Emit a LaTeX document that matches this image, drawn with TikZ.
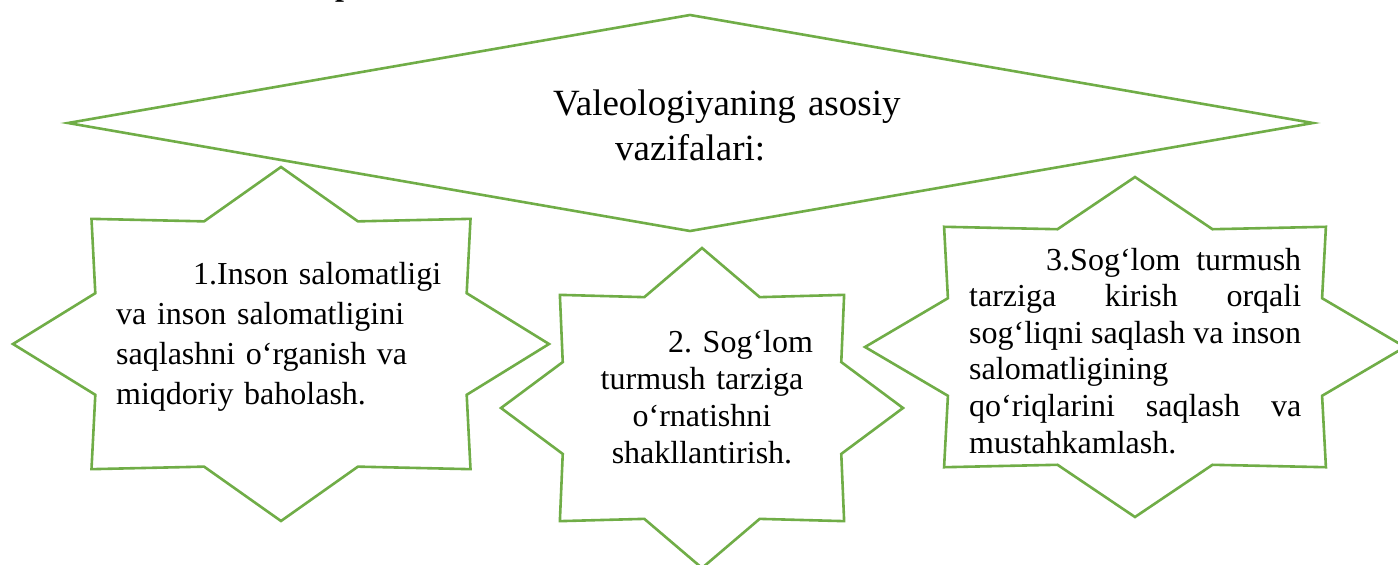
\documentclass[tikz,border=0pt]{standalone}
\usepackage{fontspec}
\setmainfont{Liberation Serif}
\frenchspacing
\definecolor{officegreen}{HTML}{70AD47}
\tikzset{
  shapeline/.style={draw=officegreen, line width=2.6pt, fill=white, line join=miter},
  boxtext/.style={inner sep=0pt, anchor=base west, font=\fontsize{32}{40}\selectfont},
}
\newcommand{\eightstar}[4]{% cx, cy, rx, ry
  \draw[shapeline] ({#1},{#2-#4})
    \foreach \k in {0,...,6}{
      -- ({#1+0.75*#3*cos(67.5-45*\k)},{#2-0.75*#4*sin(67.5-45*\k)})
      -- ({#1+#3*cos(45-45*\k)},{#2-#4*sin(45-45*\k)})
    }
    -- ({#1+0.75*#3*cos(112.5)},{#2-0.75*#4*sin(112.5)}) -- cycle;}
\begin{document}
\begin{tikzpicture}[x=1pt,y=-1pt]
\useasboundingbox (0,0) rectangle (1398,565);
% cut-off heading fragment
\node[inner sep=0pt, anchor=base west, font=\fontsize{32}{32}\selectfont\bfseries] (frag) at (335,-5) {p};
% main diamond
\coordinate (dl) at (68,123);
\coordinate (dt) at (690,15);
\coordinate (dr) at (1313,123);
\coordinate (db) at (690,231);
\draw[shapeline] (dl) -- (dt) -- (dr) -- (db) -- cycle;
\node[inner sep=0pt, anchor=base west, text width=400pt, align=left,
      font=\fontsize{37}{45}\selectfont] (title) at (553,115)
  {Valeologiyaning asosiy\\\hspace*{62pt}vazifalari:};
% stars
\eightstar{281}{344}{268}{177}
\eightstar{702}{408}{201}{160}
\eightstar{1135}{347}{270}{170}
% star texts
\node[boxtext, text width=340pt, align=left] (t1) at (116,284)
  {\hspace*{77pt}1.Inson salomatligi\\va inson salomatligini\\saqlashni o‘rganish va\\miqdoriy baholash.};
\node[inner sep=0pt, anchor=base, text width=300pt, align=center,
      font=\fontsize{32}{37}\selectfont] (t2) at (702,352)
  {\hspace*{77pt}2. Sog‘lom\\turmush tarziga\\o‘rnatishni\\shakllantirish.};
\node[boxtext, text width=332pt, font=\fontsize{32}{36.6}\selectfont] (t3) at (969,270)
  {\noindent\hspace*{77pt}3.Sog‘lom\hfill turmush\\
   tarziga\hfill kirish\hfill orqali\\
   sog‘liqni\hfill saqlash\hfill va\hfill inson\\
   salomatligining\\
   qo‘riqlarini\hfill saqlash\hfill va\\
   mustahkamlash.};
\end{tikzpicture}
\end{document}
